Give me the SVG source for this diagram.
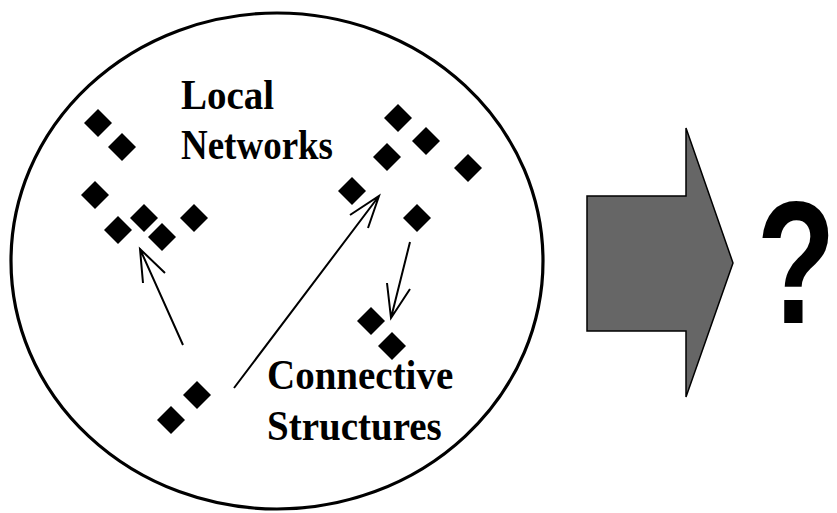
<svg xmlns="http://www.w3.org/2000/svg" width="837" height="513" viewBox="0 0 837 513">
<defs>
<style>
.lbl{font-family:"Liberation Serif","Times New Roman",serif;font-weight:bold;font-size:39px;fill:#000}
.con{stroke:#000;stroke-width:2;fill:none}
.dm{fill:#000}
</style>
<path id="d" d="M0,-14 L14,0 L0,14 L-14,0 Z"/>
</defs>
<rect width="837" height="513" fill="#fff"/>
<g id="circle"><ellipse cx="277" cy="261" rx="266" ry="248" fill="none" stroke="#000" stroke-width="3.2"/></g>
<g id="nodes" class="dm">
<use href="#d" x="98" y="123"/>
<use href="#d" x="122" y="147"/>
<use href="#d" x="95" y="195"/>
<use href="#d" x="118" y="230"/>
<use href="#d" x="144" y="218"/>
<use href="#d" x="162" y="237"/>
<use href="#d" x="194" y="218"/>
<use href="#d" x="398" y="118"/>
<use href="#d" x="426" y="141"/>
<use href="#d" x="387" y="157"/>
<use href="#d" x="468" y="168"/>
<use href="#d" x="352" y="191"/>
<use href="#d" x="417" y="218"/>
<use href="#d" x="371" y="321"/>
<use href="#d" x="392" y="346"/>
<use href="#d" x="197" y="395"/>
<use href="#d" x="171" y="420"/>
</g>
<g id="connectors" class="con">
<path d="M183,345 L140,249 M143,283 L140,249 L165,273"/>
<path d="M234,388 L379,196 M350,215 L379,196 L368,228"/>
<path d="M410,242 L391,318 M387,283 L391,318 L410,289"/>
</g>
<g id="labels">
<text class="lbl" transform="translate(181,109) scale(1,1.08)" x="0" y="0">Local</text>
<text class="lbl" transform="translate(181,159) scale(1,1.08)" x="0" y="0" textLength="152" lengthAdjust="spacingAndGlyphs">Networks</text>
<text class="lbl" transform="translate(267,389) scale(1,1.08)" x="0" y="0">Connective</text>
<text class="lbl" transform="translate(267,440) scale(1,1.08)" x="0" y="0">Structures</text>
</g>
<g id="bigarrow"><path d="M587,196 L686,196 L686,128 L733,263 L686,397 L686,331 L587,331 Z" fill="#666" stroke="#000" stroke-width="1.5"/></g>
<g id="question"><text transform="translate(796,323) scale(0.96,1.29)" x="0" y="0" text-anchor="middle" font-family="Liberation Sans,Arial,sans-serif" font-weight="bold" font-size="135">?</text></g>
</svg>
